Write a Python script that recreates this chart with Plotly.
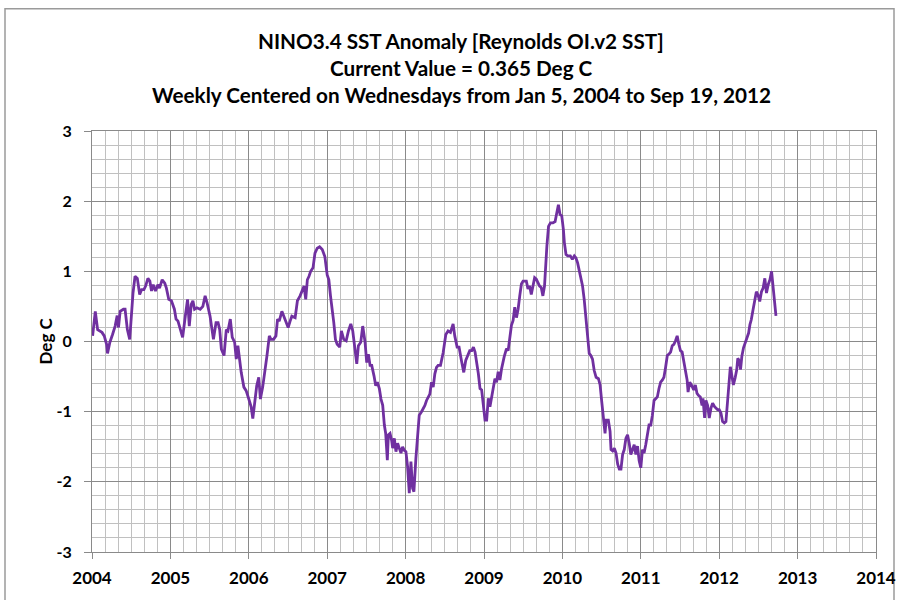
import plotly.graph_objects as go

# Decimal year of each reading (weekly series)
YEARS = [
    2004.008, 2004.042, 2004.072, 2004.127, 2004.156, 2004.186, 2004.198, 2004.228, 2004.262, 2004.295,
    2004.321, 2004.338, 2004.359, 2004.401, 2004.422, 2004.451, 2004.481, 2004.506, 2004.523, 2004.549,
    2004.578, 2004.608, 2004.633, 2004.662, 2004.684, 2004.713, 2004.738, 2004.759, 2004.781, 2004.810,
    2004.840, 2004.861, 2004.895, 2004.928, 2004.949, 2004.979, 2005.013, 2005.051, 2005.072, 2005.097,
    2005.127, 2005.156, 2005.190, 2005.219, 2005.241, 2005.266, 2005.287, 2005.308, 2005.338, 2005.380,
    2005.414, 2005.443, 2005.468, 2005.506, 2005.549, 2005.582,
    2005.608, 2005.629, 2005.650, 2005.684, 2005.713, 2005.734, 2005.764, 2005.789, 2005.819, 2005.840,
    2005.861, 2005.882, 2005.903, 2005.937, 2005.966, 2006.000, 2006.030, 2006.051, 2006.072, 2006.101,
    2006.127, 2006.148, 2006.177, 2006.198, 2006.232, 2006.262, 2006.283, 2006.316, 2006.346, 2006.367,
    2006.388, 2006.422, 2006.451, 2006.473, 2006.502, 2006.527, 2006.549, 2006.591, 2006.620, 2006.654,
    2006.684, 2006.705, 2006.726, 2006.747, 2006.768, 2006.789, 2006.819, 2006.844, 2006.873, 2006.903,
    2006.937, 2006.970, 2007.000, 2007.021, 2007.042, 2007.063, 2007.084, 2007.105, 2007.127, 2007.160,
    2007.181, 2007.211,
    2007.242, 2007.271, 2007.301, 2007.326, 2007.356, 2007.377, 2007.398, 2007.428, 2007.453, 2007.483,
    2007.504, 2007.525, 2007.547, 2007.568, 2007.597, 2007.619, 2007.640, 2007.665, 2007.686, 2007.708,
    2007.729, 2007.746, 2007.767, 2007.780, 2007.801, 2007.822, 2007.835, 2007.856, 2007.877, 2007.898,
    2007.919, 2007.941, 2007.962, 2007.983, 2008.004, 2008.025, 2008.047, 2008.068, 2008.089, 2008.106,
    2008.131, 2008.153, 2008.174, 2008.203, 2008.225, 2008.246, 2008.267, 2008.288, 2008.309, 2008.331,
    2008.352, 2008.373, 2008.394, 2008.415, 2008.445, 2008.479, 2008.513, 2008.542, 2008.572, 2008.606,
    2008.627, 2008.657, 2008.682, 2008.712, 2008.742, 2008.767, 2008.797, 2008.818,
    2008.844, 2008.865, 2008.886, 2008.907, 2008.928, 2008.949, 2008.970, 2008.992, 2009.013, 2009.034,
    2009.055, 2009.076, 2009.097, 2009.118, 2009.139, 2009.160, 2009.181, 2009.203, 2009.224, 2009.257,
    2009.287, 2009.308, 2009.329, 2009.350, 2009.371, 2009.392, 2009.414, 2009.435, 2009.456, 2009.477,
    2009.498, 2009.519, 2009.540, 2009.561, 2009.582, 2009.603, 2009.624, 2009.646, 2009.667, 2009.688,
    2009.709, 2009.730, 2009.751, 2009.772, 2009.785, 2009.802, 2009.823, 2009.848, 2009.878, 2009.907,
    2009.928, 2009.949, 2009.970, 2009.992, 2010.013, 2010.025, 2010.046, 2010.068, 2010.101, 2010.127,
    2010.152, 2010.173, 2010.194, 2010.215, 2010.236, 2010.257, 2010.278, 2010.300, 2010.321, 2010.342,
    2010.363, 2010.384, 2010.405,
    2010.430, 2010.460, 2010.481, 2010.502, 2010.523, 2010.544, 2010.557, 2010.586, 2010.608, 2010.620,
    2010.641, 2010.662, 2010.684, 2010.705, 2010.726, 2010.747, 2010.768, 2010.789, 2010.810, 2010.831,
    2010.852, 2010.873, 2010.895, 2010.916, 2010.937, 2010.958, 2010.979, 2011.000, 2011.021, 2011.042,
    2011.063, 2011.084, 2011.105, 2011.127, 2011.148, 2011.169, 2011.190, 2011.211, 2011.232, 2011.253,
    2011.274, 2011.295, 2011.316, 2011.338, 2011.359, 2011.380, 2011.401, 2011.422, 2011.443, 2011.464,
    2011.485, 2011.506, 2011.527, 2011.549, 2011.570, 2011.591, 2011.603, 2011.624, 2011.646, 2011.675,
    2011.696, 2011.717, 2011.738, 2011.759, 2011.781, 2011.793, 2011.814, 2011.831, 2011.852, 2011.873,
    2011.895, 2011.916, 2011.941, 2011.966,
    2011.978, 2012.000, 2012.022, 2012.043, 2012.065, 2012.086, 2012.108, 2012.129, 2012.142, 2012.159,
    2012.181, 2012.203, 2012.224, 2012.237, 2012.259, 2012.272, 2012.289, 2012.310, 2012.332, 2012.353,
    2012.375, 2012.392, 2012.409, 2012.431, 2012.453, 2012.474, 2012.496, 2012.517, 2012.539, 2012.560,
    2012.582, 2012.603, 2012.625, 2012.647, 2012.668, 2012.690, 2012.711, 2012.724,
]

# NINO3.4 SST anomaly, deg C
ANOM = [
    0.08, 0.43, 0.17, 0.13, 0.08, -0.04, -0.17, -0.01, 0.10, 0.22,
    0.37, 0.20, 0.43, 0.46, 0.46, 0.17, 0.03, 0.46, 0.69, 0.93,
    0.90, 0.67, 0.74, 0.74, 0.79, 0.90, 0.86, 0.72, 0.81, 0.72,
    0.81, 0.76, 0.88, 0.83, 0.76, 0.60, 0.58, 0.46, 0.32, 0.29,
    0.17, 0.06, 0.36, 0.60, 0.22, 0.53, 0.58, 0.46, 0.48, 0.46,
    0.50, 0.65, 0.55, 0.36, 0.03, 0.27,
    0.27, 0.17, -0.11, -0.20, 0.17, 0.15, 0.32, 0.06, -0.01, -0.25,
    -0.06, -0.25, -0.44, -0.65, -0.70, -0.82, -0.93, -1.10, -0.86, -0.63,
    -0.51, -0.82, -0.65, -0.49, -0.20, 0.08, 0.03, 0.03, 0.08, 0.32,
    0.29, 0.43, 0.34, 0.27, 0.20, 0.29, 0.36, 0.34, 0.58, 0.65,
    0.72, 0.79, 0.60, 0.88, 0.93, 1.00, 1.05, 1.26, 1.33, 1.35,
    1.31, 1.21, 0.95, 0.88, 0.65, 0.48, 0.27, 0.03, -0.04, -0.08,
    0.15, 0.03,
    0.01, 0.15, 0.25, 0.15, -0.16, -0.32, -0.06, -0.01, 0.22, -0.01,
    -0.30, -0.18, -0.34, -0.34, -0.49, -0.63, -0.58, -0.67, -0.82, -0.91,
    -1.19, -1.31, -1.69, -1.33, -1.31, -1.41, -1.52, -1.38, -1.57, -1.45,
    -1.52, -1.59, -1.50, -1.55, -1.57, -1.78, -2.16, -1.71, -2.09, -2.14,
    -1.67, -1.29, -1.05, -1.00, -0.96, -0.91, -0.84, -0.79, -0.75, -0.58,
    -0.65, -0.46, -0.37, -0.34, -0.34, -0.16, 0.10, 0.15, 0.13, 0.25,
    0.08, -0.08, -0.08, -0.27, -0.44, -0.27, -0.20, -0.13,
    -0.13, -0.08, -0.15, -0.29, -0.46, -0.67, -0.69, -0.91, -1.12, -1.12,
    -0.81, -0.93, -0.81, -0.67, -0.53, -0.58, -0.43, -0.55, -0.39, -0.22,
    -0.10, -0.13, 0.08, 0.23, 0.30, 0.49, 0.34, 0.46, 0.65, 0.82,
    0.86, 0.86, 0.86, 0.75, 0.79, 0.67, 0.79, 0.91, 0.89, 0.84,
    0.79, 0.77, 0.65, 0.79, 1.08, 1.36, 1.64, 1.69, 1.69, 1.71,
    1.83, 1.95, 1.81, 1.79, 1.59, 1.41, 1.24, 1.22, 1.22, 1.17,
    1.22, 1.19, 1.12, 1.00, 0.86, 0.79, 0.60, 0.37, 0.13, -0.17,
    -0.20, -0.25, -0.41,
    -0.51, -0.53, -0.62, -0.86, -1.05, -1.31, -1.12, -1.12, -1.28, -1.54,
    -1.56, -1.52, -1.59, -1.75, -1.82, -1.82, -1.61, -1.54, -1.38, -1.33,
    -1.45, -1.61, -1.54, -1.47, -1.61, -1.49, -1.70, -1.80, -1.54, -1.59,
    -1.47, -1.31, -1.19, -1.19, -1.05, -0.84, -0.81, -0.79, -0.67, -0.58,
    -0.55, -0.51, -0.37, -0.20, -0.18, -0.15, -0.06, -0.04, 0.01, 0.08,
    -0.04, -0.13, -0.15, -0.30, -0.46, -0.55, -0.72, -0.58, -0.62, -0.69,
    -0.62, -0.74, -0.77, -0.79, -0.91, -0.81, -1.09, -0.84, -0.91, -1.09,
    -0.95, -0.88, -0.93, -0.95,
    -0.97, -0.97, -1.02, -1.14, -1.16, -1.14, -0.83, -0.50, -0.36, -0.47,
    -0.62, -0.52, -0.40, -0.24, -0.28, -0.40, -0.21, -0.09, -0.02, 0.07,
    0.12, 0.24, 0.31, 0.45, 0.57, 0.71, 0.66, 0.57, 0.71, 0.76,
    0.90, 0.69, 0.81, 0.88, 1.00, 0.78, 0.59, 0.365,
]

TITLE_LINES = [
    "NINO3.4 SST Anomaly [Reynolds OI.v2 SST]",
    "Current Value = 0.365 Deg C",
    "Weekly Centered on Wednesdays from Jan 5, 2004 to Sep 19, 2012",
]
Y_LABEL = "Deg C"
X_TICKS = [2004, 2005, 2006, 2007, 2008, 2009, 2010, 2011, 2012, 2013, 2014]
X_TICK_LABELS = ["2004", "2005", "2006", "2007", "2008", "2009", "2010", "2011", "2012", "2013", "2014"]
Y_TICKS = [-3, -2, -1, 0, 1, 2, 3]
Y_TICK_LABELS = ["-3", "-2", "-1", "0", "1", "2", "3"]

FONT = "Lato, 'Open Sans', sans-serif"
MAJOR = "#8a8a8a"
MINOR = "#c0c0c0"

fig = go.Figure()
fig.add_trace(go.Scatter(
    x=YEARS, y=ANOM, mode="lines",
    line=dict(color="#7030A0", width=2.8),
    showlegend=False, hoverinfo="skip",
))

# plot-area geometry in pixels (for placing texts)
L, R, T, B = 92, 33, 131, 45
W, H = 909, 600
pw, ph = W - L - R, H - T - B

def px_x(x):
    return (x - L) / pw

def px_y(y):
    return (H - B - y) / ph

fig.update_layout(
    width=W, height=H, autosize=False,
    margin=dict(l=L, r=R, t=T, b=B, pad=0),
    paper_bgcolor="white", plot_bgcolor="white",
    font=dict(family=FONT, color="#000000"),
    xaxis=dict(
        range=[X_TICKS[0], X_TICKS[-1]], tickmode="array", tickvals=X_TICKS, ticktext=X_TICK_LABELS,
        showgrid=True, gridcolor=MAJOR, gridwidth=1,
        minor=dict(dtick=1 / 6, tick0=2004, showgrid=True, gridcolor=MINOR, gridwidth=1),
        showline=True, linecolor=MAJOR, linewidth=1, mirror=True,
        ticks="outside", ticklen=6, tickcolor=MAJOR,
        tickfont=dict(family=FONT, size=17, color="#000000", weight="bold"),
        ticklabelstandoff=5, zeroline=False, fixedrange=True,
    ),
    yaxis=dict(
        range=[Y_TICKS[0], Y_TICKS[-1]], tickmode="array", tickvals=Y_TICKS, ticktext=Y_TICK_LABELS,
        showgrid=True, gridcolor=MAJOR, gridwidth=1,
        minor=dict(dtick=0.2, tick0=0, showgrid=True, gridcolor=MINOR, gridwidth=1),
        showline=True, linecolor=MAJOR, linewidth=1, mirror=True,
        ticks="outside", ticklen=7, tickcolor=MAJOR,
        tickfont=dict(family=FONT, size=16, color="#000000", weight="bold"),
        ticklabelstandoff=9, zeroline=False, fixedrange=True,
    ),
)

# chart frame (outer border)
fig.add_shape(
    type="rect", xref="paper", yref="paper",
    x0=px_x(5), x1=px_x(894), y0=px_y(610), y1=px_y(8),
    line=dict(color="#9a9a9a", width=1.5), fillcolor="rgba(0,0,0,0)", layer="below",
)

title_y = [40, 68, 95]
for txt, yy in zip(TITLE_LINES, title_y):
    fig.add_annotation(
        text=txt, xref="paper", yref="paper", x=px_x(461), y=px_y(yy),
        xanchor="center", yanchor="middle", showarrow=False,
        font=dict(family=FONT, size=20.7, color="#000000", weight="bold"),
    )

fig.add_annotation(
    text=Y_LABEL, xref="paper", yref="paper", x=px_x(45), y=px_y(343),
    xanchor="center", yanchor="middle", showarrow=False, textangle=-90,
    font=dict(family=FONT, size=17, color="#000000", weight="bold"),
)

fig.write_html(
    "out.html",
    config={"displayModeBar": False, "staticPlot": True},
    post_script="document.body.style.margin='0';",
)
